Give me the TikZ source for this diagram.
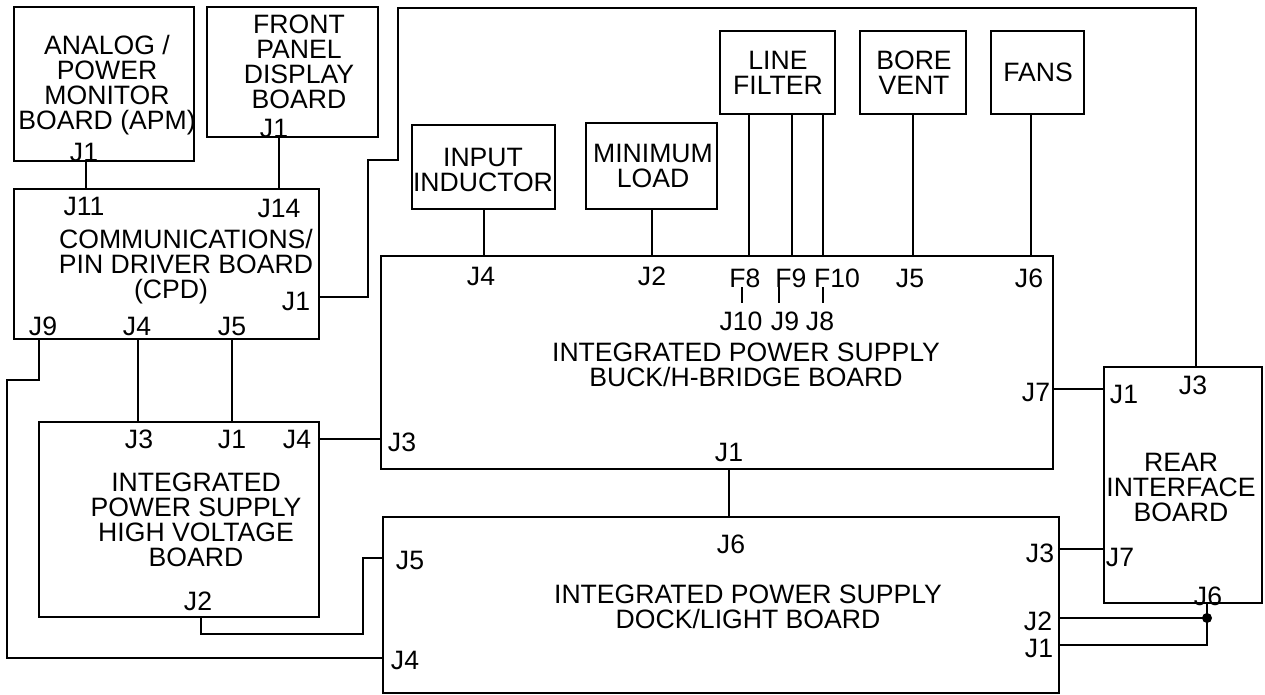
\documentclass[tikz,border=0pt]{standalone}
\usepackage{fontspec}
\setmainfont{Liberation Sans}
\begin{document}
\begin{tikzpicture}[x=1pt,y=-1pt,
  box/.style={draw, line width=1.2pt, inner sep=0pt, outer sep=0pt, anchor=north west},
  wire/.style={line width=2.2pt},
  tick/.style={line width=1.3pt},
  lbl/.style={inner sep=0pt, outer sep=0pt, font=\fontsize{26.6}{25}\selectfont},
  txt/.style={lbl, align=center}]
\useasboundingbox (0,0) rectangle (1265,695);

% boxes
\node[box, minimum width=180pt, minimum height=154pt] (apm) at (14,7) {};
\node[box, minimum width=171pt, minimum height=130pt] (fp) at (207,7) {};
\node[box, minimum width=305pt, minimum height=150pt] (cpd) at (14,189) {};
\node[box, minimum width=143pt, minimum height=84pt] (ind) at (412,125) {};
\node[box, minimum width=131pt, minimum height=86pt] (minl) at (586,123) {};
\node[box, minimum width=115pt, minimum height=83pt] (lf) at (720,31) {};
\node[box, minimum width=106pt, minimum height=83pt] (bv) at (860,31) {};
\node[box, minimum width=93pt, minimum height=83pt] (fans) at (991,31) {};
\node[box, minimum width=672pt, minimum height=213pt] (buck) at (381,256) {};
\node[box, minimum width=280pt, minimum height=195pt] (hv) at (39,422) {};
\node[box, minimum width=676pt, minimum height=176pt] (dock) at (383,517) {};
\node[box, minimum width=158pt, minimum height=236pt] (rear) at (1104,367) {};

% helper coordinates
\coordinate (xA) at (86,0);
\coordinate (xB) at (279,0);
\coordinate (xC) at (484,0);
\coordinate (xD) at (652,0);
\coordinate (xE) at (749,0);
\coordinate (xF) at (792,0);
\coordinate (xG) at (823,0);
\coordinate (xH) at (913,0);
\coordinate (xI) at (1031,0);
\coordinate (xJ) at (138,0);
\coordinate (xK) at (232,0);
\coordinate (xL) at (729,0);
\coordinate (xM) at (1207,0);
\coordinate (xN) at (1196,0);
\coordinate (xO) at (39,0);
\coordinate (xP) at (201,0);
\coordinate (yA) at (0,297);
\coordinate (yB) at (0,389);
\coordinate (yC) at (0,439);
\coordinate (yD) at (0,549);
\coordinate (yE) at (0,618);
\coordinate (yF) at (0,645);
\coordinate (yG) at (0,658);
\coordinate (yH) at (0,558);

% connectors
\draw[wire] (xA |- apm.south) -- (xA |- cpd.north);
\draw[wire] (xB |- fp.south) -- (xB |- cpd.north);
\draw[wire] (yA -| cpd.east) -- (368,297) -- (368,160) -- (398,160) -- (398,8) -- (1196,8) -- (xN |- rear.north);
\draw[wire] (xC |- ind.south) -- (xC |- buck.north);
\draw[wire] (xD |- minl.south) -- (xD |- buck.north);
\draw[wire] (xE |- lf.south) -- (xE |- buck.north);
\draw[wire] (xF |- lf.south) -- (xF |- buck.north);
\draw[wire] (xG |- lf.south) -- (xG |- buck.north);
\draw[wire] (xH |- bv.south) -- (xH |- buck.north);
\draw[wire] (xI |- fans.south) -- (xI |- buck.north);
\draw[wire] (yB -| buck.east) -- (yB -| rear.west);
\draw[wire] (xL |- buck.south) -- (xL |- dock.north);
\draw[wire] (xJ |- cpd.south) -- (xJ |- hv.north);
\draw[wire] (xK |- cpd.south) -- (xK |- hv.north);
\draw[wire] (yC -| hv.east) -- (yC -| buck.west);
\draw[wire] (xO |- cpd.south) -- (39,380) -- (7,380) -- (7,658) -- (yG -| dock.west);
\draw[wire] (xP |- hv.south) -- (201,634) -- (363,634) -- (363,558) -- (yH -| dock.west);
\draw[wire] (yD -| dock.east) -- (yD -| rear.west);
\node[circle, fill, inner sep=0pt, minimum size=10pt] (jn) at (1207,618) {};
\draw[wire] (yE -| dock.east) -- (jn.center);
\draw[wire] (xM |- rear.south) -- (xM |- yF) -- (yF -| dock.east);

% ticks F -> J
\draw[tick] (742,287) -- (742,303);
\draw[tick] (779,287) -- (779,303);
\draw[tick] (823,287) -- (823,303);

% APM
\node[txt] (apmT) at (107,85) {ANALOG /\\POWER\\MONITOR\\BOARD (APM)};
\node[lbl] (apmJ1) at (84,152) {J1};
% Front panel
\node[txt] (fpT) at (299,62) {FRONT\\PANEL\\DISPLAY\\BOARD};
\node[lbl] (fpJ1) at (274,128) {J1};
% CPD
\node[lbl] (cJ11) at (84,206) {J11};
\node[lbl] (cJ14) at (279,208) {J14};
\node[txt] (cT) at (186,267) {COMMUNICATIONS/\\PIN DRIVER BOARD\\(CPD)\hspace*{30pt}};
\node[lbl] (cJ1) at (296,301) {J1};
\node[lbl] (cJ9) at (43,326) {J9};
\node[lbl] (cJ4) at (137,326) {J4};
\node[lbl] (cJ5) at (232,326) {J5};
% small boxes
\node[txt] (indT) at (483,170) {INPUT\\INDUCTOR};
\node[txt] (minT) at (653,166) {MINIMUM\\LOAD};
\node[txt] (lfT) at (778,73) {LINE\\FILTER};
\node[txt] (bvT) at (914,73) {BORE\\VENT};
\node[lbl] (fansT) at (1038,72) {FANS};
% Buck
\node[lbl] (bJ4) at (481,276) {J4};
\node[lbl] (bJ2) at (652,276) {J2};
\node[lbl] (bF8) at (745,278) {F8};
\node[lbl] (bF9) at (791,278) {F9};
\node[lbl] (bF10) at (837,278) {F10};
\node[lbl] (bJ5) at (910,278) {J5};
\node[lbl] (bJ6) at (1029,278) {J6};
\node[lbl] (bJ10) at (741,321) {J10};
\node[lbl] (bJ9) at (785,321) {J9};
\node[lbl] (bJ8) at (820,321) {J8};
\node[txt] (bT) at (746,365) {INTEGRATED POWER SUPPLY\\BUCK/H-BRIDGE BOARD};
\node[lbl] (bJ7) at (1036,392) {J7};
\node[lbl] (bJ3) at (402,442) {J3};
\node[lbl] (bJ1) at (729,452) {J1};
% HV
\node[lbl] (hJ3) at (139,439) {J3};
\node[lbl] (hJ1) at (232,439) {J1};
\node[lbl] (hJ4) at (297,439) {J4};
\node[txt] (hT) at (196,520) {INTEGRATED\\POWER SUPPLY\\HIGH VOLTAGE\\BOARD};
\node[lbl] (hJ2) at (198,601) {J2};
% Dock
\node[lbl] (dJ6) at (731,544) {J6};
\node[txt] (dT) at (748,607) {INTEGRATED POWER SUPPLY\\DOCK/LIGHT BOARD};
\node[lbl] (dJ5) at (410,560) {J5};
\node[lbl] (dJ4) at (405,660) {J4};
\node[lbl] (dJ3) at (1040,553) {J3};
\node[lbl] (dJ2) at (1038,621) {J2};
\node[lbl] (dJ1) at (1039,648) {J1};
% Rear
\node[lbl] (rJ1) at (1124,394) {J1};
\node[lbl] (rJ3) at (1193,385) {J3};
\node[txt] (rT) at (1181,487) {REAR\\INTERFACE\\BOARD};
\node[lbl] (rJ7) at (1120,557) {J7};
\node[lbl] (rJ6) at (1208,596) {J6};
\end{tikzpicture}
\end{document}
